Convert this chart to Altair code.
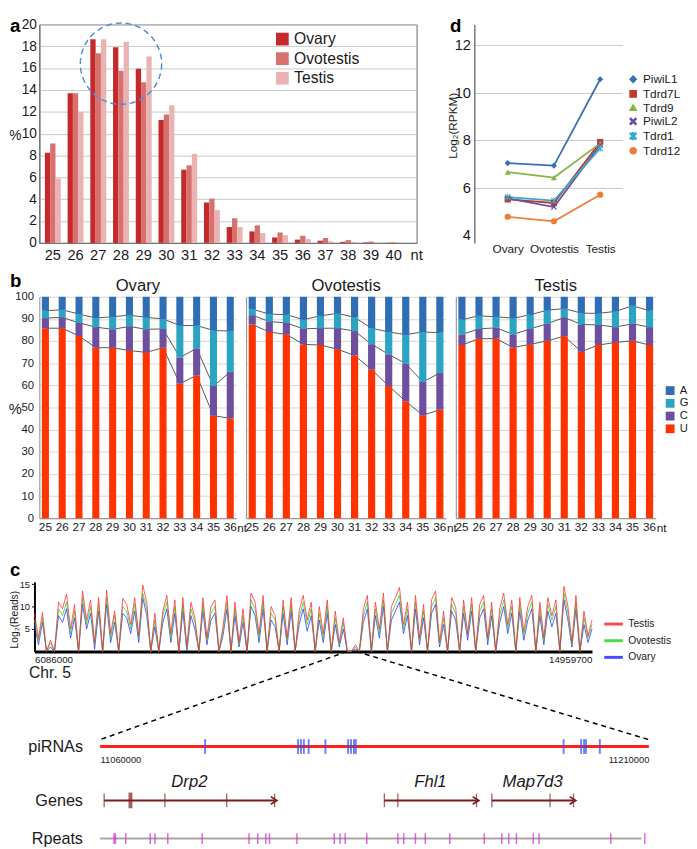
import altair as alt
import numpy as np
import pandas as pd

FONT = "Liberation Sans"
TXT = "#1a1a1a"

# ---------------- panel a : length distribution ----------------
a_lengths = [str(n) for n in range(25, 41)]
a_tissues = ["Ovary", "Ovotestis", "Testis"]
a_ovary = [8.25, 13.7, 18.65, 17.9, 15.95, 11.25, 6.7, 3.7, 1.45, 1.05, 0.5, 0.3, 0.2, 0.1, 0.05, 0.02]
a_ovotestis = [9.1, 13.7, 17.35, 15.75, 14.7, 11.75, 7.1, 4.05, 2.25, 1.6, 0.95, 0.65, 0.45, 0.25, 0.12, 0.05]
a_testis = [5.9, 12.0, 18.65, 18.4, 17.05, 12.6, 8.15, 3.0, 1.45, 0.9, 0.7, 0.35, 0.15, 0.1, 0.05, 0.02]
a_colors = ["#c42a2c", "#d8706d", "#e8b3b2"]
a_highlight_nt = ["28"]
a_highlight_pct = [16.4]

# ---------------- panel d : expression ----------------
d_tissues = ["Ovary", "Ovotestis", "Testis"]
d_genes = ["PiwiL1", "Tdrd7L", "Tdrd9", "PiwiL2", "Tdrd1", "Tdrd12"]
d_piwil1 = [7.03, 6.92, 10.56]
d_tdrd7l = [5.50, 5.35, 7.92]
d_tdrd9 = [6.65, 6.42, 7.86]
d_piwil2 = [5.55, 5.18, 7.80]
d_tdrd1 = [5.60, 5.45, 7.65]
d_tdrd12 = [4.77, 4.58, 5.70]
d_colors = ["#3b6fb6", "#c0392f", "#86b34a", "#6b4f9e", "#36a9c9", "#ee7d3a"]

# ---------------- panel b : nucleotide composition (cumulative tops) ----------------
b_lengths = [str(n) for n in range(25, 37)]
b_bases = ["A", "G", "C", "U"]
b_colors = ["#2f6db4", "#2ba3c3", "#6e4f9f", "#ff3300"]
b_ovary_u = [85.8, 85.8, 82.3, 77.0, 77.0, 75.7, 74.9, 77.0, 60.8, 64.5, 46.3, 45.1]
b_ovary_uc = [90.4, 90.7, 88.2, 86.3, 85.3, 86.6, 85.3, 85.5, 72.6, 76.7, 59.7, 66.1]
b_ovary_ucg = [93.7, 94.1, 92.2, 90.4, 91.0, 91.7, 90.7, 90.0, 87.0, 87.0, 84.8, 84.5]
b_ovotestis_u = [87.5, 84.1, 83.0, 78.5, 78.2, 76.3, 73.5, 67.1, 59.7, 52.8, 46.5, 49.0]
b_ovotestis_uc = [91.7, 88.8, 88.2, 85.5, 85.8, 85.8, 84.5, 78.6, 74.0, 69.8, 61.5, 65.6]
b_ovotestis_ucg = [94.4, 92.2, 91.9, 89.7, 91.4, 92.5, 90.7, 85.8, 84.1, 82.9, 84.1, 83.8]
b_testis_u = [78.2, 81.1, 81.1, 77.1, 78.5, 80.1, 82.2, 75.2, 78.2, 79.4, 80.1, 78.2]
b_testis_uc = [83.0, 85.5, 86.0, 83.0, 85.5, 87.8, 90.7, 87.5, 87.3, 86.3, 87.8, 86.3]
b_testis_ucg = [89.7, 91.4, 91.0, 90.3, 91.9, 93.9, 94.7, 92.6, 92.5, 93.4, 95.9, 93.7]

# ---------------- panel c : chromosome track + zoomed region ----------------
c_chrom = [6086000, 14959700]
c_tissues = ["Testis", "Ovotestis", "Ovary"]
c_colors = ["#ff2a2a", "#28d628", "#2a2aff"]
c_testis = [
    8.5, 3.0, 8.7, 0, 2.5, 0, 11.0, 9.5, 12.8, 5.0,
    10.5, 0, 13.5, 7.0, 11.5, 2.0, 12.0, 0, 13.7, 4.0,
    9.0, 0, 11.8, 10.5, 6.0, 12.0, 3.5, 14.8, 11.0, 0,
    8.5, 0, 9.0, 12.5, 4.0, 11.5, 0, 12.0, 1.0, 11.0,
    7.5, 0, 12.0, 3.0, 10.0, 11.5, 0, 5.5, 12.5, 0,
    11.0, 2.0, 9.5, 0, 13.0, 11.0, 4.0, 12.5, 0, 10.0,
    8.0, 0, 11.5, 3.0, 12.0, 0, 9.0, 12.5, 7.0, 11.0,
    0, 10.0, 4.0, 11.5, 0, 9.0, 2.0, 7.5, 0, 0,
    1.5, 0, 9.5, 12.5, 0, 11.0, 5.0, 13.0, 0, 10.0,
    12.0, 14.3, 6.0, 11.0, 0, 12.5, 3.0, 10.5, 0, 11.5,
    13.5, 2.0, 9.0, 0, 12.0, 10.0, 0, 11.5, 4.0, 12.0,
    0, 10.5, 12.5, 3.0, 11.0, 0, 9.5, 13.0, 6.0, 11.5,
    0, 12.0, 4.5, 10.0, 12.5, 0, 11.0, 3.0, 12.0, 8.0,
    11.5, 0, 14.5, 10.0, 2.0, 12.5, 0, 9.0, 3.5, 7.0,
]
c_ovotestis = [
    7.0, 2.5, 7.5, 0, 2.0, 0, 9.5, 8.0, 11.0, 4.0,
    9.0, 0, 12.0, 6.0, 10.0, 1.5, 10.5, 0, 12.0, 3.0,
    8.0, 0, 10.0, 9.0, 5.0, 10.5, 3.0, 13.0, 9.5, 0,
    7.0, 0, 8.0, 11.0, 3.0, 10.0, 0, 10.5, 0.5, 9.5,
    6.5, 0, 10.5, 2.5, 8.5, 10.0, 0, 4.5, 11.0, 0,
    9.5, 1.5, 8.0, 0, 11.5, 9.5, 3.0, 11.0, 0, 8.5,
    7.0, 0, 10.0, 2.5, 10.5, 0, 7.5, 11.0, 6.0, 9.5,
    0, 8.5, 3.0, 10.0, 0, 7.5, 1.5, 6.5, 0, 0,
    1.0, 0, 8.0, 11.0, 0, 9.5, 4.0, 11.5, 0, 8.5,
    10.5, 12.5, 5.0, 9.5, 0, 11.0, 2.5, 9.0, 0, 10.0,
    12.0, 1.5, 7.5, 0, 10.5, 8.5, 0, 10.0, 3.5, 10.5,
    0, 9.0, 11.0, 2.5, 9.5, 0, 8.0, 11.5, 5.0, 10.0,
    0, 10.5, 3.5, 8.5, 11.0, 0, 9.5, 2.5, 10.5, 7.0,
    10.0, 0, 13.0, 8.5, 1.5, 11.0, 0, 7.5, 3.0, 6.0,
]
c_ovary = [
    6.0, 1.5, 6.5, 0, 1.0, 0, 8.0, 6.5, 9.5, 3.0,
    7.5, 0, 10.5, 5.0, 8.5, 0.5, 9.0, 0, 10.5, 2.0,
    6.5, 0, 8.5, 7.5, 4.0, 9.0, 2.0, 12.0, 8.0, 0,
    5.5, 0, 6.5, 9.5, 2.0, 8.5, 0, 9.0, 0, 8.0,
    5.0, 0, 9.0, 1.5, 7.0, 8.5, 0, 3.5, 9.5, 0,
    8.0, 1.0, 6.5, 0, 10.0, 8.0, 2.0, 9.5, 0, 7.0,
    5.5, 0, 8.5, 1.5, 9.0, 0, 6.0, 9.5, 4.5, 8.0,
    0, 7.0, 2.0, 8.5, 0, 6.0, 1.0, 5.0, 0, 0,
    0.5, 0, 6.5, 9.5, 0, 8.0, 3.0, 10.0, 0, 7.0,
    9.0, 11.0, 4.0, 8.0, 0, 9.5, 1.5, 7.5, 0, 8.5,
    10.5, 1.0, 6.0, 0, 9.0, 7.0, 0, 8.5, 2.5, 9.0,
    0, 7.5, 9.5, 1.5, 8.0, 0, 6.5, 10.0, 4.0, 8.5,
    0, 9.0, 2.5, 7.0, 9.5, 0, 8.0, 1.5, 9.0, 5.5,
    8.5, 0, 11.5, 7.0, 1.0, 9.5, 0, 6.0, 2.0, 5.0,
]
c_region = [11060000, 11210000]
c_pirna = [11088700, 11114100, 11114900, 11115700, 11117000, 11121600, 11127800,
           11128600, 11129400, 11129900, 11186700, 11191500, 11192300, 11192800, 11196600]
c_gene_names = ["Drp2", "Fhl1", "Map7d3"]
c_gene_start = [11061100, 11137700, 11167100]
c_gene_end = [11107700, 11162900, 11189400]
c_exons = [11061100, 11077700, 11094600, 11107700, 11137700, 11141400, 11162900,
           11167100, 11183000, 11189400]
c_exons_thick = [11068300]
c_repeats = [11067000, 11073700, 11075000, 11078500, 11087900, 11100700, 11103100,
             11105300, 11106300, 11113800, 11124000, 11125600, 11127000, 11132900, 11141400,
             11143000, 11146200, 11148900, 11155600, 11165000, 11169800, 11171700, 11173800,
             11178400, 11180000, 11199600, 11208900]
c_repeats_thick = [11064000]
c_repeat_end = 11208000


def letter(t, x, y):
    return alt.Chart(pd.DataFrame({"t": [t]})).mark_text(
        fontSize=19, fontWeight="bold", align="left", baseline="alphabetic", color="black"
    ).encode(text="t:N", x=alt.value(x), y=alt.value(y))


def plain_text(t, x, y, size):
    return alt.Chart(pd.DataFrame({"t": [t]})).mark_text(
        fontSize=size, align="center", baseline="middle", color=TXT
    ).encode(text="t:N", x=alt.value(x), y=alt.value(y))


# ======== panel a ========
A_W, A_H = 385, 223
a_df = pd.DataFrame([
    {"nt": n, "tissue": t, "pct": v}
    for t, vals in zip(a_tissues, [a_ovary, a_ovotestis, a_testis])
    for n, v in zip(a_lengths, vals)
])
a_x = alt.X("nt:N", sort=a_lengths,
            scale=alt.Scale(domain=a_lengths, paddingInner=0.3, paddingOuter=0.45, align=0.27),
            axis=alt.Axis(title=None, labelAngle=0, labelFontSize=15, labelPadding=5, ticks=False,
                          domainColor="#666", grid=False))
a_y = alt.Y("pct:Q", scale=alt.Scale(domain=[0, 20], nice=False),
            axis=alt.Axis(values=list(range(0, 21, 2)), labelFontSize=14, labelPadding=3, ticks=False,
                          domainColor="#666", gridColor="#c9c9c9", title="%", titleAngle=0,
                          titleFontSize=14, titleFontWeight="normal", titleX=-25, titleY=113,
                          titleAlign="center", titleBaseline="middle"))
a_bars = alt.Chart(a_df).mark_bar().encode(
    x=a_x,
    xOffset=alt.XOffset("tissue:N", sort=a_tissues,
                        scale=alt.Scale(domain=a_tissues, paddingInner=0, paddingOuter=0)),
    y=a_y,
    color=alt.Color("tissue:N", sort=a_tissues, scale=alt.Scale(domain=a_tissues, range=a_colors),
                    legend=alt.Legend(title=None, orient="none", legendX=240, legendY=7,
                                      symbolType="square", symbolSize=169, labelFontSize=16,
                                      rowPadding=4, symbolStrokeWidth=0, labelColor=TXT)),
)
a_circle = alt.Chart(pd.DataFrame({"nt": a_highlight_nt, "pct": a_highlight_pct})).mark_point(
    shape="circle", size=6889, filled=False, stroke="#4d8fd6", strokeWidth=1.5,
    strokeDash=[6, 4], opacity=1
).encode(x=a_x, y=a_y)
panel_a = alt.layer(
    a_bars, a_circle, plain_text("nt", A_W, A_H + 12, 15), letter("a", -30, 8)
).properties(width=A_W, height=A_H, view=alt.ViewBackground(stroke="#666"))

# ======== panel d ========
D_W, D_H = 151, 223
d_df = pd.DataFrame([
    {"gene": g, "tissue": t, "val": v}
    for g, vals in zip(d_genes, [d_piwil1, d_tdrd7l, d_tdrd9, d_piwil2, d_tdrd1, d_tdrd12])
    for t, v in zip(d_tissues, vals)
])
X_PATH = ("M-1,-0.75L-0.75,-1L0,-0.25L0.75,-1L1,-0.75L0.25,0L1,0.75L0.75,1L0,0.25"
          "L-0.75,1L-1,0.75L-0.25,0Z")
AST_PATH = X_PATH + "M-0.15,-1.1L0.15,-1.1L0.15,1.1L-0.15,1.1Z"
d_shapes = ["diamond", "square", "triangle-up", X_PATH, AST_PATH, "circle"]
d_x = alt.X("tissue:N", sort=d_tissues,
            scale=alt.Scale(type="point", domain=d_tissues, padding=0.6, align=0.6),
            axis=alt.Axis(title=None, labelAngle=0, labelFontSize=12, ticks=False, domain=False,
                          labelPadding=1, grid=False))
d_y = alt.Y("val:Q", scale=alt.Scale(domain=[3.67, 12.87], nice=False, zero=False),
            axis=alt.Axis(values=[4, 6, 8, 10, 12], labelFontSize=15, labelPadding=4, ticks=False,
                          domainColor="#333", gridColor="#c9c9c9",
                          gridOpacity={"condition": {"test": "datum.value == 4", "value": 0}, "value": 1},
                          title="Log₂(RPKM)", titleFontSize=12, titleFontWeight="normal",
                          titleX=-22, titleY=103, titleAlign="center", titleBaseline="middle"))
d_legend = alt.Legend(title=None, orient="none", legendX=156, legendY=50, labelFontSize=12,
                      rowPadding=1, symbolSize=40, labelColor=TXT, symbolStrokeWidth=1.5)
d_color = alt.Color("gene:N", sort=d_genes, scale=alt.Scale(domain=d_genes, range=d_colors), legend=d_legend)
d_lines = alt.Chart(d_df).mark_line(strokeWidth=1.8).encode(x=d_x, y=d_y, color=d_color)
d_points = alt.Chart(d_df).mark_point(filled=True, size=40, opacity=1).encode(
    x=d_x, y=d_y, color=d_color,
    shape=alt.Shape("gene:N", sort=d_genes, scale=alt.Scale(domain=d_genes, range=d_shapes), legend=d_legend),
)
panel_d = alt.layer(d_lines, d_points, letter("d", -25, 8)).properties(width=D_W, height=D_H)

# ======== panel b ========
B_H = 226


def b_panel(name, u, uc, ucg, width, first, last):
    bar_rows = []
    for i, n in enumerate(b_lengths):
        for base, lo, hi in (("U", 0, u[i]), ("C", u[i], uc[i]), ("G", uc[i], ucg[i]), ("A", ucg[i], 100)):
            bar_rows.append({"nt": n, "base": base, "lo": lo, "hi": hi})
    bars_df = pd.DataFrame(bar_rows)
    bnd_df = pd.DataFrame([
        {"nt": n, "level": lvl, "v": arr[i]}
        for lvl, arr in (("U", u), ("UC", uc), ("UCG", ucg))
        for i, n in enumerate(b_lengths)
    ])
    x = alt.X("nt:N", sort=b_lengths,
              scale=alt.Scale(domain=b_lengths, paddingInner=0.58, paddingOuter=0.15),
              axis=alt.Axis(title=None, labelAngle=0, labelFontSize=12, labelPadding=4, ticks=False,
                            domainColor="#888", grid=False))
    if first:
        yaxis = alt.Axis(values=list(range(0, 101, 10)), labelFontSize=11.5, labelPadding=6, ticks=False,
                         domainColor="#888", gridColor="#d6d6d6", title="%", titleAngle=0,
                         titleFontSize=15, titleFontWeight="normal", titleX=-25, titleY=114,
                         titleAlign="center", titleBaseline="middle")
    else:
        yaxis = alt.Axis(values=list(range(0, 101, 10)), labels=False, ticks=False,
                         domainColor="#888", gridColor="#d6d6d6", title=None)
    yscale = alt.Scale(domain=[0, 100], nice=False)
    legend = None
    if last:
        legend = alt.Legend(title=None, orient="none", legendX=width + 9, legendY=90,
                            symbolType="square", symbolSize=81, labelFontSize=11.5, rowPadding=0,
                            symbolStrokeWidth=0, labelColor=TXT)
    lines = alt.Chart(bnd_df).mark_line(color="#555", strokeWidth=1).encode(
        x=x, y=alt.Y("v:Q", scale=yscale, axis=yaxis), detail="level:N")
    bars = alt.Chart(bars_df).mark_bar().encode(
        x=x, y=alt.Y("lo:Q", scale=yscale, axis=yaxis), y2="hi:Q",
        color=alt.Color("base:N", scale=alt.Scale(domain=b_bases, range=b_colors), legend=legend))
    layers = [lines, bars, plain_text("nt", width + 6, B_H + 10, 12),
              plain_text(name, width / 2, -11, 17)]
    if first:
        layers.append(letter("b", -30, -10))
    return alt.layer(*layers).properties(width=width, height=B_H)


b_ov = b_panel("Ovary", b_ovary_u, b_ovary_uc, b_ovary_ucg, 201, True, False)
b_ot = b_panel("Ovotestis", b_ovotestis_u, b_ovotestis_uc, b_ovotestis_ucg, 204, False, False)
b_te = b_panel("Testis", b_testis_u, b_testis_uc, b_testis_ucg, 204, False, True)

# ======== panel c : track ========
TR_W, TR_H = 564, 71
TRACK_RANGE = [-5, 564]
GENE_RANGE = [62, 622]
LANE_W = 627
n_pts = len(c_testis)
c_pos = np.linspace(c_chrom[0], c_chrom[1], n_pts)
c_x = alt.X("pos:Q", scale=alt.Scale(domain=c_chrom, range=TRACK_RANGE, nice=False, zero=False),
            axis=alt.Axis(values=c_chrom, format="d", labelFlush=True, labelFontSize=10, labelPadding=3,
                          ticks=False, domainColor="black", domainWidth=3, grid=False, title="Chr. 5",
                          titleFontSize=16, titleFontWeight="normal", titleAnchor="start",
                          titleAlign="left", titleX=-11, titleY=22, titleBaseline="middle"))
c_y = alt.Y("reads:Q", scale=alt.Scale(domain=[0, 15.5], nice=False),
            axis=alt.Axis(values=[5, 10, 15], labelFontSize=9.5, tickSize=3, tickColor="black",
                          domainColor="black", domainWidth=2, grid=False, offset=5,
                          title="Log₂(Reads)", titleFontSize=10.5, titleFontWeight="normal",
                          titleX=-20, titleY=38, titleAlign="center", titleBaseline="middle"))
c_legend = alt.Legend(title=None, orient="none", legendX=575, legendY=32, symbolType="stroke",
                      symbolStrokeWidth=3, symbolSize=361, labelFontSize=10.5, rowPadding=0,
                      labelColor=TXT)
c_color = alt.Color("tissue:N", sort=c_tissues, scale=alt.Scale(domain=c_tissues, range=c_colors),
                    legend=c_legend)
track_layers = []
for t, vals in (("Ovary", c_ovary), ("Ovotestis", c_ovotestis), ("Testis", c_testis)):
    df = pd.DataFrame({"pos": c_pos, "reads": vals, "tissue": t})
    track_layers.append(alt.Chart(df).mark_line(strokeWidth=0.9, opacity=0.85).encode(
        x=c_x, y=c_y, color=c_color))
track = alt.layer(*track_layers, letter("c", -30, -6)).properties(width=TR_W, height=TR_H)


def gene_to_chrom(v):
    px = GENE_RANGE[0] + (v - c_region[0]) / (c_region[1] - c_region[0]) * (GENE_RANGE[1] - GENE_RANGE[0])
    return c_chrom[0] + (px - TRACK_RANGE[0]) / (TRACK_RANGE[1] - TRACK_RANGE[0]) * (c_chrom[1] - c_chrom[0])


link_df = pd.DataFrame({"top": c_region, "bottom": [gene_to_chrom(v) for v in c_region],
                        "y1": [1, 1], "y0": [0, 0]})
link = alt.Chart(link_df).mark_rule(strokeDash=[5, 4], color="black", strokeWidth=1.5).encode(
    x=alt.X("top:Q", scale=alt.Scale(domain=c_chrom, range=TRACK_RANGE, nice=False, zero=False), axis=None),
    x2="bottom:Q",
    y=alt.Y("y1:Q", scale=alt.Scale(domain=[0, 1]), axis=None),
    y2="y0:Q",
).properties(width=LANE_W, height=90)

gene_scale = alt.Scale(domain=c_region, range=GENE_RANGE, nice=False, zero=False)


def lane_y(align):
    return alt.Y("lane:N", scale=alt.Scale(type="point", align=align),
                 axis=alt.Axis(title=None, domain=False, ticks=False, labelPadding=0, offset=-44,
                               labelFontSize=16.5, labelColor=TXT, grid=False))


# piRNA lane
p_y = lane_y(0.5)
p_xaxis = alt.Axis(values=c_region, format="d", labelFlush=True, labelFontSize=9.5, labelPadding=1,
                   ticks=False, domain=False, grid=False, title=None)
p_line = alt.Chart(pd.DataFrame({"lane": ["piRNAs"], "start": [c_region[0]], "end": [c_region[1]]})).mark_rule(
    color="#ff2020", strokeWidth=3).encode(
    x=alt.X("start:Q", scale=gene_scale, axis=p_xaxis), x2="end:Q", y=p_y)
p_ticks = alt.Chart(pd.DataFrame({"lane": "piRNAs", "pos": c_pirna})).mark_tick(
    color="#2f52e8", thickness=2, size=15).encode(x=alt.X("pos:Q", scale=gene_scale, axis=p_xaxis), y=p_y)
pirna_lane = alt.layer(p_line, p_ticks).properties(width=LANE_W, height=14)

# genes lane
g_y = lane_y(0.676)
g_df = pd.DataFrame({"lane": "Genes", "name": c_gene_names, "start": c_gene_start, "end": c_gene_end})
g_df["mid"] = (g_df["start"] + g_df["end"]) / 2
GENE_COL = "#7b1c1c"
g_line = alt.Chart(g_df).mark_rule(color=GENE_COL, strokeWidth=2).encode(
    x=alt.X("start:Q", scale=gene_scale, axis=None), x2="end:Q", y=g_y)
g_arrow = alt.Chart(g_df).mark_point(shape="M-1,-1L0.6,0L-1,1", filled=False, size=60, strokeWidth=1.8,
                                     color=GENE_COL, opacity=1).encode(
    x=alt.X("end:Q", scale=gene_scale, axis=None), y=g_y)
g_ex = alt.Chart(pd.DataFrame({"lane": "Genes", "pos": c_exons})).mark_tick(
    color=GENE_COL, thickness=1.3, size=14).encode(x=alt.X("pos:Q", scale=gene_scale, axis=None), y=g_y)
g_ex2 = alt.Chart(pd.DataFrame({"lane": "Genes", "pos": c_exons_thick})).mark_tick(
    color=GENE_COL, thickness=4, size=16).encode(x=alt.X("pos:Q", scale=gene_scale, axis=None), y=g_y)
g_names = alt.Chart(g_df).mark_text(dy=-19, fontSize=17, fontStyle="italic", color=TXT).encode(
    x=alt.X("mid:Q", scale=gene_scale, axis=None), y=g_y, text="name:N")
genes_lane = alt.layer(g_line, g_arrow, g_ex, g_ex2, g_names).properties(width=LANE_W, height=71)

# repeats lane
r_y = lane_y(0.84)
r_line = alt.Chart(pd.DataFrame({"lane": ["Rpeats"], "start": [c_region[0]], "end": [c_repeat_end]})).mark_rule(
    color="#a8a8a8", strokeWidth=2).encode(
    x=alt.X("start:Q", scale=gene_scale, axis=None), x2="end:Q", y=r_y)
r_ticks = alt.Chart(pd.DataFrame({"lane": "Rpeats", "pos": c_repeats})).mark_tick(
    color="#d424d4", thickness=1.5, size=11).encode(x=alt.X("pos:Q", scale=gene_scale, axis=None), y=r_y)
r_ticks2 = alt.Chart(pd.DataFrame({"lane": "Rpeats", "pos": c_repeats_thick})).mark_tick(
    color="#d424d4", thickness=3, size=11).encode(x=alt.X("pos:Q", scale=gene_scale, axis=None), y=r_y)
repeats_lane = alt.layer(r_line, r_ticks, r_ticks2).properties(width=LANE_W, height=19)

# ======== composition ========
row1 = alt.hconcat(panel_a, panel_d, spacing=59, bounds="flush").resolve_scale(
    color="independent", shape="independent")
rowb = alt.hconcat(b_ov, b_ot, b_te, spacing=10, bounds="flush").resolve_scale(color="independent")
upper = alt.vconcat(row1, rowb, spacing=9).resolve_scale(color="independent", shape="independent")
bottom = alt.vconcat(track, link, pirna_lane, genes_lane, repeats_lane, spacing=0,
                     bounds="flush").resolve_scale(color="independent")
chart = alt.vconcat(upper, bottom, spacing=28).resolve_scale(
    color="independent", shape="independent"
).properties(padding=0, background="white").configure(font=FONT).configure_view(stroke=None).configure_axis(
    labelColor=TXT, titleColor=TXT, labelFont=FONT, titleFont=FONT
).configure_legend(labelFont=FONT)

chart.save("out.html", embed_options={"renderer": "svg", "actions": False})
